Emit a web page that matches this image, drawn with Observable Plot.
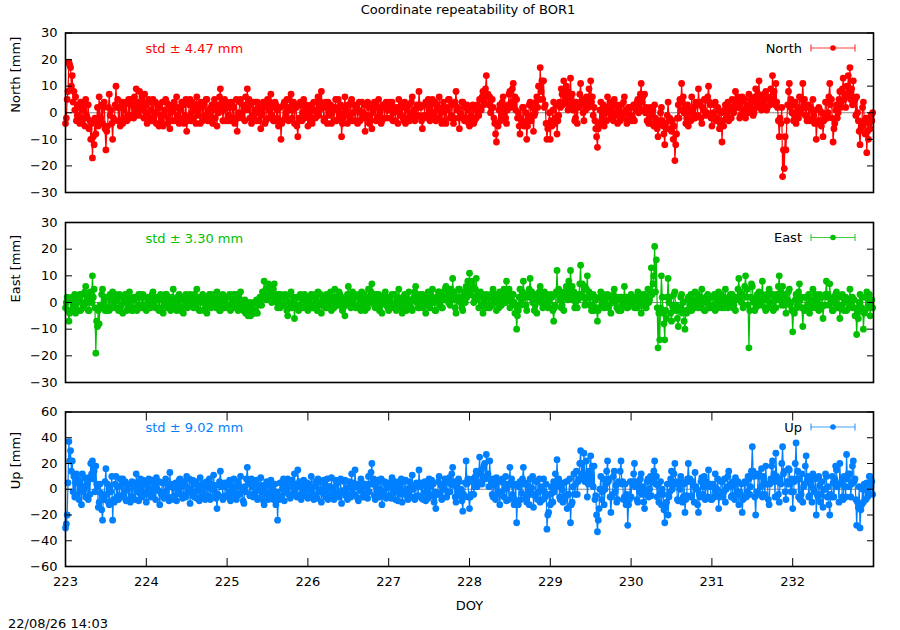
<!DOCTYPE html>
<html>
<head>
<meta charset="utf-8">
<script src="https://cdn.jsdelivr.net/npm/d3@7"></script>
<script src="https://cdn.jsdelivr.net/npm/@observablehq/plot@0.6"></script>
<style>
  body { margin: 0; background: #fff; }
  #wrap { position: relative; width: 900px; height: 630px; background: #fff; font-family: "DejaVu Sans", sans-serif; overflow: hidden; }
  .abs { position: absolute; }
  #title { left: 0; top: 2px; width: 936px; text-align: center; font-size: 13px; color: #000; }
  #stamp { left: 8px; top: 616px; font-size: 13px; color: #000; }
  .panel { position: absolute; left: 0; }
  .panel svg { overflow: visible; }
</style>
</head>
<body>
<div id="wrap">
  <div id="title" class="abs"></div>
  <div id="stamp" class="abs"></div>
</div>
<script>
// ---------- text ----------
const titleText = "Coordinate repeatability of BOR1";
const stampText = "22/08/26 14:03";
const xLabel = "DOY";

// ---------- axes ----------
const startDoy = 223;
const samplesPerDay = 96;   // one value every 15 minutes
const xDomain = [223, 233];
const xTicks = [223, 224, 225, 226, 227, 228, 229, 230, 231, 232];
const yTicksNE = [-30, -20, -10, 0, 10, 20, 30];
const yTicksUp = [-60, -40, -20, 0, 20, 40, 60];

// ---------- series (mm), every 15 min from DOY 223.0, one row per day ----------
const north = [
  -4,-2,5,8, 19,18,17,10, 14,4,8,1, 6,-3,-1,3, 2,-4,4,-2, -3,3,1,-5, 5,-1,-2,3, -6,-3,-10,-4, -17,-9,-12,-2, -8,-3,2,-5, 6,-4,-2,3, -4,2,4,-6, -14,-7,-5,2, 7,-1,1,-4, -10,-2,-3,3, 10,2,5,-3, 2,-5,-3,4, -4,1,3,-2, 4,-3,-1,5, -2,3,5,-1, 3,-2,6,0, 9,2,4,-1, 8,1,2,6, 4,-2,7,0,
  3,-4,-1,5, -2,1,4,-3, 5,-2,0,4, -4,3,2,-5, 2,-1,-3,4, -5,-1,1,5, 4,-4,-2,3, -6,0,2,-3, 1,4,-3,2, 6,-1,2,-4, -3,1,4,-2, 3,-4,-1,5, -7,-3,-2,3, 5,-3,0,4, -2,2,3,-4, 6,1,-1,3, -4,4,2,-3, 3,-1,-2,5, 5,-3,1,-1, -3,2,3,-4, 2,5,-2,1, -5,3,0,6, 9,2,4,-3, 1,5,-3,2,
  4,-3,-1,2, -3,4,3,-2, 2,-4,-2,5, -7,-2,0,4, 5,-1,-2,3, 1,-3,6,2, 9,1,5,-2, 3,-4,-1,4, -2,1,4,-3, 4,0,-3,2, -6,-1,0,4, 2,-4,-3,3, 5,-2,1,4, 7,-1,2,-3, -3,4,3,-2, 1,-5,-4,2, -10,-4,-3,3, 4,-2,0,5, 2,-3,5,1, 7,-2,1,4, -4,3,2,-5, -9,-2,-3,4, 3,-3,0,5, -2,2,3,-1,
  -5,2,0,-3, 3,-4,-2,4, 1,-2,4,0, 6,-1,1,4, 8,2,3,-3, -2,4,2,-4, 4,0,-1,3, -4,2,1,-3, 2,5,-3,1, 5,-2,0,3, -9,-4,-2,2, 6,0,1,-4, 3,-1,-2,4, 5,-3,0,3, -3,1,2,-4, 1,4,-3,0, 4,-2,0,3, -7,-2,-1,4, 2,-4,-3,3, -6,0,1,4, 3,-3,-2,2, 5,-1,1,-4, -3,3,2,-2, 2,4,-2,1,
  1,4,-2,3, 4,-3,0,2, -3,1,2,-4, 5,1,-1,3, 2,-2,-3,4, -4,2,1,-2, 3,-3,-2,4, 6,0,1,-3, -2,2,3,-1, 8,3,2,-3, -6,-2,-1,3, 4,-1,-2,5, 1,-3,3,-1, 5,0,-1,4, -3,3,2,-2, 6,1,0,-4, 2,4,-3,1, -4,2,1,5, 5,-2,-1,3, 3,-4,-2,4, 8,1,2,-2, -6,0,-1,4, 4,-2,-3,2, -2,3,1,-4,
  -5,-2,-1,2, 3,-4,-3,1, -2,3,2,-1, 5,2,1,6, 8,3,4,9, 14,6,7,3, 6,0,2,5, 2,-2,-4,-8, -11,-4,-5,1, 3,-3,-1,4, 6,0,2,-2, -4,1,3,7, 8,2,4,9, 11,3,6,1, 5,-2,0,-5, -8,-2,-3,2, 2,-5,-4,0, -10,-5,-2,3, 4,-3,-1,2, -7,-1,0,4, 6,2,10,5, 17,8,12,5, 12,2,3,-4, -10,-6,-4,0,
  -10,-3,-5,1, 4,-4,-2,3, -8,-3,-1,4, 2,9,7,3, 12,4,6,10, 8,1,3,7, 13,5,7,1, 3,-3,-2,4, -4,3,2,7, 11,3,5,0, -3,4,1,6, 5,2,9,3, 12,4,6,-1, 2,-3,-6,-9, -13,-6,-4,1, 4,-3,-1,3, -5,0,2,-3, 6,1,0,4, -2,2,3,-3, 5,0,-1,3, -4,2,1,-3, 3,-1,-2,4, 6,0,1,-4, -3,2,2,-1,
  2,-3,-2,3, -3,2,1,4, 5,0,2,7, 11,4,6,1, 7,0,2,-3, 1,-4,-2,2, -4,-1,1,-5, 3,-2,-3,-6, -9,-3,-4,0, 2,-3,-5,-8, -12,-4,-6,-1, 4,-3,-2,-6, -7,-3,-10,-5, -18,-12,-8,-2, 3,-2,5,1, 11,4,6,0, 2,-4,-2,3, -5,0,1,-3, 6,0,2,-2, -2,4,3,-1, 9,3,4,-2, -4,2,1,5, 5,-1,0,6, 10,4,3,-2,
  -5,-1,0,3, 4,-3,-2,2, 1,-6,-4,0, -11,-3,-5,1, 3,-2,-1,4, -3,1,2,-2, 5,1,0,4, 8,2,3,6, 2,-2,-1,4, 6,0,1,5, -2,2,3,0, 7,1,2,5, 4,-1,0,6, 9,2,4,7, 12,3,6,1, 3,5,7,2, 8,1,2,6, 5,3,9,4, 14,5,8,3, 11,4,2,-3, -9,-2,-4,2, -24,-14,-21,-9, -14,-3,3,8, 11,2,5,0,
  3,-3,-1,4, -4,0,2,-2, 6,0,1,5, 11,3,5,-1, 2,-3,-2,3, -3,2,1,-3, 5,-1,-4,1, -10,-4,-3,2, 1,-3,-5,0, -9,-3,-2,4, 4,-2,0,6, 11,3,5,-2, -11,-6,-4,1, 3,-2,0,5, 8,2,4,9, 13,5,7,2, 10,6,14,8, 17,5,9,3, 12,4,5,-1, 6,0,-3,-7, -12,-6,-5,2, 4,-3,-8,-2, -15,-7,-10,-4, -6,-1,-3,0
];
const east = [
  -2,0,2,-3, -7,-4,-3,1, 2,-1,-2,3, -4,1,0,-3, 1,3,-3,0, 3,-2,-1,4, 6,0,2,-3, -3,2,4,0, 10,2,5,-2, -19,-7,-9,-3, -8,-1,-2,3, 5,-1,1,-3, 2,-3,-2,2, -3,3,1,-2, 4,-1,0,3, -2,1,2,-3, 3,-2,-1,2, -4,0,0,3, 1,-3,-2,2, 4,-1,1,-3, -3,2,1,-2, 2,-3,-2,3, -1,3,2,-2, 3,-2,-1,2,
  -3,2,0,-2, 2,-2,-1,3, 4,-1,1,-2, -2,2,1,-3, 1,3,-2,1, -4,1,0,3, 3,-2,-1,2, 0,-3,2,-1, 5,0,1,-2, -3,2,0,3, 2,-3,-2,1, -4,2,-1,3, 1,-2,2,-1, 3,0,-1,2, -2,3,1,-2, 5,0,2,-3, -3,1,0,3, 2,-3,-2,2, -4,1,0,3, 3,-2,1,-1, -1,3,2,-2, 4,-1,0,-3, -3,2,-1,3, 1,-2,2,-1,
  2,-2,-1,3, -3,2,1,-2, 3,-1,0,3, -1,-3,2,0, 4,-2,0,-3, -2,1,-4,-1, -2,-5,-3,0, -5,-2,-1,-4, 0,-4,-3,1, -4,0,-1,2, 1,-1,4,2, 8,3,5,1, 3,7,6,2, 4,0,1,5, 7,2,3,0, -2,3,1,-2, 3,-1,-1,2, -1,3,2,-3, -5,0,-1,3, 4,-2,0,2, -6,-1,-2,2, 2,-3,-1,3, -2,2,1,-2, 3,-1,0,2,
  -3,2,0,-2, 3,-2,-1,2, -2,3,1,-3, 4,-1,0,3, -4,0,-1,2, 1,-2,3,0, 3,-2,0,4, -3,2,1,-2, 5,0,2,-1, -1,4,3,0, 2,-3,-2,1, -5,0,-1,3, 6,1,2,-2, 0,4,3,-1, 3,-2,-1,2, -2,3,1,-3, 4,-1,0,3, -3,2,1,-2, 5,0,2,4, 7,1,3,-1, -2,3,1,-2, 3,-3,-1,2, -4,1,0,3, 4,-1,1,-2,
  -3,2,1,-2, 3,-1,-1,3, -1,-3,2,0, 5,1,1,-2, -4,2,0,3, 2,-3,-2,1, 4,0,1,-2, -3,1,2,4, 6,0,2,-2, -2,3,1,-1, 3,-2,-1,2, -4,1,0,4, 1,-2,3,0, 5,0,1,-3, -3,2,0,4, 4,-1,2,-2, -2,3,1,5, 6,1,3,0, 3,-1,5,1, 9,2,4,-2, -4,2,1,5, 5,0,2,-2, -3,4,3,0, 6,2,8,4,
  11,3,5,8, 6,0,2,5, 9,1,3,-2, 2,4,-1,3, -4,0,1,-2, 3,-1,-2,2, -2,3,2,-1, 5,0,0,3, -3,2,1,-2, 4,0,-1,3, 1,5,3,0, 8,1,2,5, -2,3,1,-1, 3,0,-4,-1, -10,-5,-3,2, 5,-1,1,4, 8,2,3,-1, -3,3,2,5, 9,2,4,0, 2,-3,-1,3, -4,1,1,4, 6,0,2,-2, -1,4,3,0, 3,-2,0,2,
  -2,3,2,-3, -7,-2,-1,4, 12,3,5,1, 3,-2,-1,3, -3,4,2,6, 5,1,8,3, 12,4,6,1, 4,-2,0,3, -2,1,3,7, 14,3,7,2, 6,-1,1,5, 10,2,4,-1, 2,-3,-1,3, -3,2,1,-2, -7,-3,-2,2, 4,-1,0,3, -2,2,2,-1, 3,-2,-1,2, -4,1,0,3, 5,0,2,-2, 1,-3,-2,2, -3,2,1,-1, 6,1,2,-2, -2,2,1,-1,
  3,-1,0,2, -2,2,1,-2, 4,0,-1,3, -4,1,0,3, 2,-2,-2,1, 5,0,1,4, 13,3,7,10, 21,4,16,-2, -17,-4,-14,-2, 10,2,-4,-8, -14,-3,-6,2, 9,0,2,-4, -7,-1,-2,3, 4,-3,-1,-6, -9,-2,-3,2, 3,-4,0,-7, -10,-3,-4,1, 2,-3,-1,3, -3,1,1,-2, 4,-1,0,3, -2,2,2,-2, 5,0,1,-3, -3,2,0,3, 2,-2,-1,2,
  2,-2,-1,3, -3,2,1,-2, 4,-1,0,3, -2,1,2,-2, 5,0,1,-2, -1,2,3,0, 3,-2,-1,2, -3,1,2,5, 9,2,4,0, 3,-2,-1,6, 10,2,5,-1, -17,-3,2,7, 6,1,0,-3, -2,2,3,-1, 4,0,-1,3, 8,1,2,-2, -3,3,1,-2, 5,0,0,3, 3,-3,-2,2, -2,3,1,6, 10,2,4,-1, 6,0,-1,3, -4,1,1,4, 5,-1,0,-3,
  -11,-3,-4,1, 3,-2,-1,4, 7,1,2,-2, -9,-2,-3,2, 2,-2,-1,3, -4,0,1,-2, 5,0,0,3, -2,1,2,-3, 3,-1,-2,2, -6,-1,-1,3, 8,2,3,-1, 7,0,1,-3, -3,2,0,3, 4,-1,-2,2, -6,-2,-1,3, 2,-3,0,2, -3,1,1,-2, 5,0,-1,2, -2,1,-5,-2, -12,-4,-6,0, 3,-3,-2,2, -10,-4,-3,2, 4,-2,0,3, -5,-1,1,-2
];
const up = [
  -30,-27,-20,5, 37,22,30,14, 22,-2,10,-6, 5,12,-4,8, -8,6,3,-12, 12,-2,0,9, -6,8,5,-8, 9,-4,20,12, 22,8,14,-2, 18,4,2,-14, -10,4,-3,-16, -24,-6,-8,6, 16,-4,4,-10, -12,2,-2,10, -24,-8,-10,4, 10,-6,2,-8, -5,8,3,-6, 8,-4,-2,6, -9,4,0,-8, 4,-10,-6,6, -6,5,3,-8, 12,-2,5,-9, -3,8,2,-6, 7,-3,-4,6,
  -10,3,-2,8, 6,-6,0,7, -4,5,3,-8, 9,0,-1,6, -12,-2,-4,5, 5,-7,-2,8, -6,4,2,-9, 13,2,4,-6, 1,-8,-5,5, -9,2,0,7, 8,-4,2,-7, -5,6,3,-6, 10,-2,0,8, -11,0,-3,7, 4,-6,-2,6, -7,3,1,-9, 9,-2,3,-6, -3,5,-8,2, 6,-5,1,8, -8,4,0,-6, 11,-1,3,-7, -15,-4,-5,6, 14,2,4,-8, -6,5,2,-5,
  5,-6,-3,7, -9,3,0,-6, 8,-3,2,-8, -5,6,3,-4, 10,-2,1,-9, -11,2,-2,8, 17,4,6,-5, -4,8,2,-6, 6,-5,-2,7, -8,3,1,-7, 9,-2,3,-9, -12,0,-4,6, 3,-8,-3,5, 7,-4,1,-8, -6,4,-12,-2, -24,-6,-8,5, 5,-5,0,8, -9,2,-2,6, 8,-4,2,-7, -5,7,3,-3, 12,0,4,-6, 15,2,6,-4, -8,3,-1,7, 6,-5,0,5,
  -7,4,0,-6, 10,-3,2,-8, -5,6,3,-7, 8,-2,-2,6, -10,0,-3,7, 4,-6,-1,8, -8,2,2,-6, 9,-4,1,-8, -3,7,4,-5, 6,-6,-3,8, -11,-1,-2,6, 7,-5,1,-8, -4,6,3,-6, 12,0,5,-4, 15,2,4,-7, -9,3,-1,8, 5,-6,2,-4, -6,4,1,-7, 10,-2,4,13, 20,4,8,-5, -8,2,-2,7, 6,-6,0,8, -12,-2,-4,6, 4,-7,1,5,
  -5,5,2,-7, 9,-3,0,6, -8,2,-1,-9, 6,-4,2,8, -10,-2,-2,6, 7,-5,0,-8, -4,6,3,-6, 11,0,2,-8, -6,5,4,-5, 15,2,5,-7, 3,-8,-3,6, -9,3,0,-7, 8,-4,2,7, -5,4,-10,-2, -15,-4,-4,6, 10,-3,3,-8, -7,4,0,8, 5,-6,-2,7, 9,-2,4,12, 17,3,6,-6, -10,2,-2,8, 6,-5,0,-9, -17,-4,-6,5, 22,4,8,-6,
  -15,-6,-4,6, 8,-4,2,10, 14,2,5,12, 25,6,15,4, 10,18,20,8, 27,10,12,2, 22,8,6,-4, -6,8,3,-8, 9,-4,-2,6, -12,-2,-4,8, 5,-6,0,10, -9,2,4,-8, 17,5,8,-4, 3,-12,-8,4, -26,-10,-12,2, 6,-8,-3,8, 17,4,5,-6, -10,3,-2,-12, 8,-4,1,10, -14,-4,-5,6, 6,-8,-2,8, -10,2,0,-8, 8,-2,-6,4, -31,-20,-18,-4,
  -12,2,-3,-10, 6,-2,12,2, 23,4,8,-6, -8,4,0,-10, 5,-8,-6,6, -15,-4,-4,8, -26,-12,-10,2, 12,-4,4,14, -4,6,8,20, 30,12,20,8, 28,6,10,22, -6,4,14,6, 26,10,18,2, 18,-8,-5,-20, -33,-24,-15,0, 10,-8,-2,8, -12,0,4,14, 22,6,8,-6, -18,-6,-4,10, 14,-2,3,-10, -8,6,5,14, 22,4,6,-8, -6,4,-12,-4, -28,-12,-8,6,
  -6,6,4,12, 20,2,6,-8, -10,4,-2,8, 12,-4,2,-10, -15,-2,-4,6, 8,-6,0,10, -5,8,6,14, 22,4,10,-6, 3,-10,-4,6, -12,0,-4,-16, -26,-14,-10,4, -20,-6,-2,8, 14,0,4,12, 20,4,6,-8, -9,4,0,10, 6,-10,-6,4, -18,-8,-5,8, 20,6,8,-6, -5,6,3,-10, 13,2,0,-12, -18,-4,-6,6, 9,-4,2,10, -8,6,3,-6, 15,2,4,-8,
  -8,4,2,-6, 12,-2,0,8, -15,-6,-4,6, 6,-6,-2,8, -10,0,2,10, 14,2,4,-6, -5,6,3,-8, 9,-4,-2,6, -12,-2,-4,4, -18,-8,-6,6, 5,-6,-2,10, 8,-4,2,14, 33,14,10,-6, -20,-2,-4,12, 10,-4,2,16, -6,10,6,-4, 18,4,4,-8, -12,4,8,18, 22,6,12,-6, 28,10,6,-4, -10,8,4,20, 33,12,14,-2, -8,6,4,16, 15,4,-2,8,
  -15,-2,6,20, 36,8,14,-6, 8,-8,-4,12, -10,2,4,18, 26,6,10,-6, -5,8,3,-10, 12,0,-2,8, -20,-4,-6,10, 3,-10,-4,6, -14,0,0,12, 10,-6,2,-12, -20,-4,-6,10, 5,-6,8,18, 15,2,4,-10, 20,4,6,-6, -8,10,2,-6, 27,8,12,2, 12,-6,4,18, 22,6,8,-8, -28,-10,-14,2, -30,-16,-12,0, -10,4,0,-8, 5,-6,-2,10, 10,2,6,-4
];

// ---------- panel descriptions ----------
const names = ["North", "East", "Up"];
const colors = ["#ff0000", "#00c000", "#0080ff"];
const stds = ["std \u00b1 4.47 mm", "std \u00b1 3.30 mm", "std \u00b1 9.02 mm"];
const yLabels = ["North [mm]", "East [mm]", "Up [mm]"];

document.getElementById("title").textContent = titleText;
document.getElementById("stamp").textContent = stampText;

const font = "DejaVu Sans, sans-serif";

function legendMark(name, color) {
  return (index, scales, values, dims) => {
    const g = d3.create("svg:g");
    const xr = dims.width - dims.marginRight;
    const y = dims.marginTop + 15.5;
    g.append("text").attr("x", xr - 71).attr("y", y).attr("dy", "0.35em")
      .attr("text-anchor", "end").attr("font-size", 13).attr("fill", "#000").text(name);
    const x1 = xr - 62, x2 = xr - 18, xm = (x1 + x2) / 2;
    g.append("line").attr("x1", x1).attr("x2", x2).attr("y1", y).attr("y2", y)
      .attr("stroke", color).attr("stroke-width", 1.2).attr("opacity", 0.75);
    for (const xx of [x1, x2]) {
      g.append("line").attr("x1", xx).attr("x2", xx).attr("y1", y - 3.5).attr("y2", y + 3.5)
        .attr("stroke", color).attr("stroke-width", 1.2).attr("opacity", 0.75);
    }
    g.append("circle").attr("cx", xm).attr("cy", y).attr("r", 2.8).attr("fill", color);
    return g.node();
  };
}

function panel(k, values, yDomain, yTicks, top, height, marginTop, marginBottom, bottom) {
  const color = colors[k];
  const data = values.map((v, i) => ({t: startDoy + i / samplesPerDay, v}));
  const blank = () => "";
  const marks = [
    Plot.ruleY([0], {stroke: "#8a8a8a", strokeWidth: 1}),
    Plot.line(data, {x: "t", y: "v", stroke: color, strokeWidth: 1.2}),
    Plot.dot(data, {x: "t", y: "v", r: 3.4, fill: color, stroke: "none"}),
    Plot.axisY(yTicks, {anchor: "left", tickSize: -7, tickFormat: blank, label: null, stroke: "#000"}),
    Plot.axisY(yTicks, {anchor: "right", tickSize: -7, tickFormat: blank, label: null, stroke: "#000"}),
    Plot.axisY(yTicks, {anchor: "left", tickSize: 0, tickPadding: 8, label: null, fontSize: 13, fill: "#000"}),
    Plot.frame({stroke: "#000", strokeWidth: 1.6}),
    Plot.text([stds[k]], {frameAnchor: "top-left", dx: 80, dy: 16, textAnchor: "start", lineAnchor: "middle", fill: color, fontSize: 13}),
    Plot.text([yLabels[k]], {frameAnchor: "left", dx: -50, rotate: -90, lineAnchor: "middle", fontSize: 13, fill: "#000"}),
    legendMark(names[k], color)
  ];
  if (bottom) {
    marks.push(
      Plot.axisX(xTicks, {anchor: "bottom", tickSize: -8, tickFormat: blank, label: null, stroke: "#000"}),
      Plot.axisX(xTicks, {anchor: "top", tickSize: -8, tickFormat: blank, label: null, stroke: "#000"}),
      Plot.axisX(xTicks, {anchor: "bottom", tickSize: 0, tickPadding: 10, label: null, fontSize: 13, fill: "#000", tickFormat: d => String(d)}),
      Plot.text([xLabel], {frameAnchor: "bottom", dy: 39, lineAnchor: "middle", fontSize: 13, fill: "#000"})
    );
  }
  const svg = Plot.plot({
    width: 900,
    height,
    marginLeft: 65,
    marginRight: 27,
    marginTop,
    marginBottom,
    style: {fontFamily: font, fontSize: "13px", background: "transparent", color: "#000"},
    x: {domain: xDomain, axis: null},
    y: {domain: yDomain, axis: null},
    marks
  });
  const div = document.createElement("div");
  div.className = "panel";
  div.style.top = top + "px";
  div.appendChild(svg);
  document.getElementById("wrap").appendChild(div);
}

panel(0, north, [-30, 30], yTicksNE, 0, 200, 32.5, 8, false);
panel(1, east, [-30, 30], yTicksNE, 200, 190, 22, 8, false);
panel(2, up, [-60, 60], yTicksUp, 390, 240, 21.5, 64, true);
</script>
</body>
</html>
